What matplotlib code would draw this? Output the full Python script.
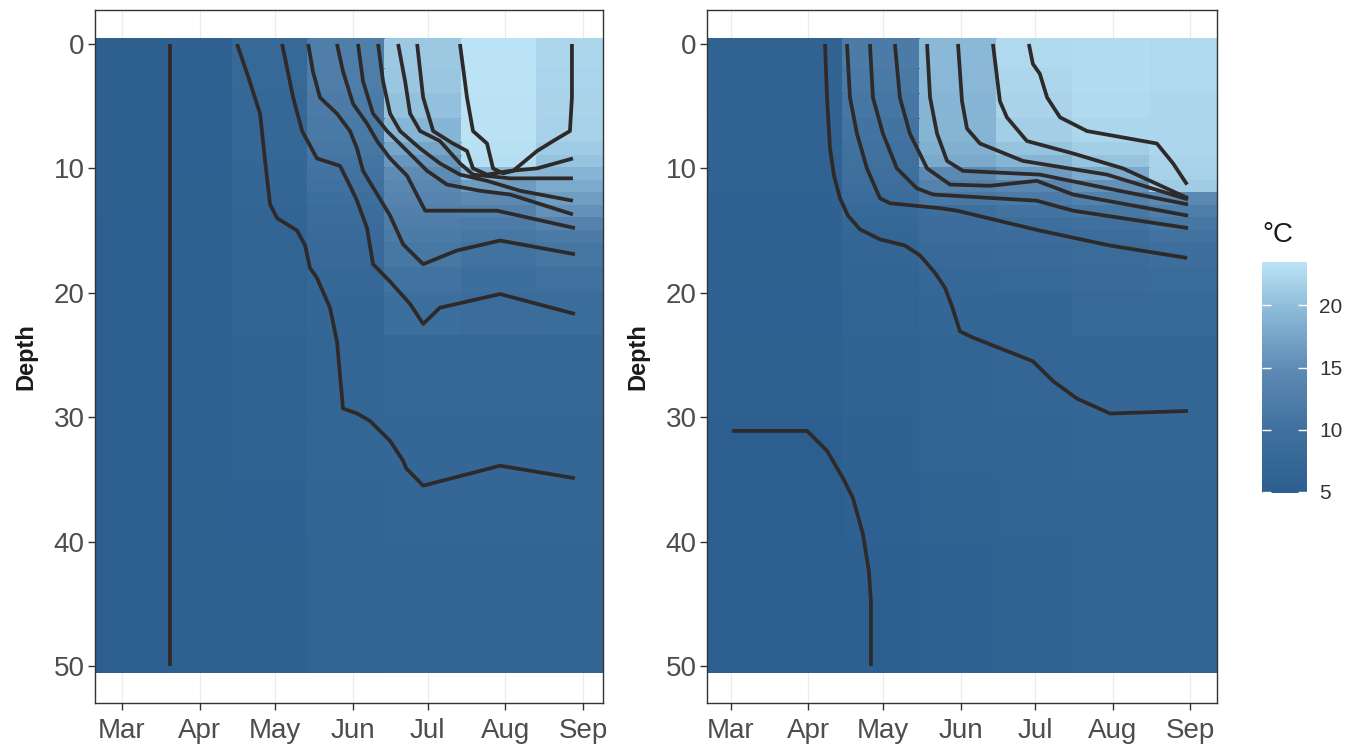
import numpy as np
import matplotlib
matplotlib.use('Agg')
import matplotlib.pyplot as plt
from matplotlib.colors import LinearSegmentedColormap, Normalize

plt.rcParams['font.family'] = ['Liberation Sans', 'DejaVu Sans']

# ── Shared axes (x = days since 1 March, y = depth in m) ─────────────────────
month_days = [0, 31, 61, 92, 122, 153, 184]
month_labels = ['Mar', 'Apr', 'May', 'Jun', 'Jul', 'Aug', 'Sep']
depth_ticks = [0, 10, 20, 30, 40, 50]
depth_edges = [-0.4, 2, 4, 6, 8, 9, 10, 11, 12, 13, 14, 15, 16, 18, 20, 23.5,
               30, 35, 40, 50.5]

# ── Left panel: tile columns and temperature profiles (°C per depth bin) ─────
left_day_edges = [-10.8, 19.2, 44.3, 74.3, 105.0, 135.7, 165.7, 192.0]
left_t1 = [5.1, 5.1, 5.1, 5.1, 5.1, 5.1, 5.1, 5.1, 5.1, 5.1, 5.0, 5.0, 5.0, 5.0, 5.0, 5.0, 5.0, 4.9, 4.9]
left_t2 = [5.8, 5.8, 5.8, 5.8, 5.8, 5.8, 5.7, 5.7, 5.7, 5.7, 5.7, 5.7, 5.6, 5.6, 5.6, 5.5, 5.5, 5.4, 5.4]
left_t3 = [7.9, 7.8, 7.7, 7.6, 7.5, 7.4, 7.3, 7.1, 6.9, 6.7, 6.6, 6.5, 6.4, 6.3, 6.2, 6.0, 5.9, 5.8, 5.7]
left_t4 = [12.5, 12.3, 12.0, 11.6, 11.2, 10.8, 10.4, 10.0, 9.5, 9.0, 8.6, 8.3, 8.0, 7.7, 7.4, 7.0, 6.8, 6.6, 6.4]
left_t5 = [21.0, 20.8, 20.3, 19.2, 17.5, 16.0, 14.8, 14.2, 13.6, 12.9, 12.4, 11.9, 11.2, 10.3, 9.5, 7.6, 7.1, 6.8, 6.5]
left_t6 = [23.5, 23.5, 23.4, 23.3, 23.2, 23.0, 19.5, 16.5, 14.5, 13.0, 12.0, 11.2, 10.3, 9.5, 8.8, 7.6, 7.1, 6.8, 6.5]
left_t7 = [22.2, 22.1, 22.0, 21.8, 21.3, 20.5, 19.2, 18.0, 16.8, 15.5, 13.5, 12.0, 11.0, 10.0, 9.0, 7.6, 7.1, 6.8, 6.5]

# ── Right panel ──────────────────────────────────────────────────────────────
right_day_edges = [-9.6, 44.9, 75.8, 106.6, 137.1, 167.9, 194.8]
right_t1 = [6.0, 6.0, 6.0, 5.9, 5.9, 5.9, 5.9, 5.9, 5.8, 5.8, 5.8, 5.8, 5.7, 5.7, 5.6, 5.4, 5.0, 4.9, 4.9]
right_t2 = [12.0, 11.6, 11.1, 10.6, 10.2, 9.9, 9.6, 9.3, 8.8, 8.2, 7.6, 7.1, 6.8, 6.5, 6.2, 5.9, 5.7, 5.5, 5.3]
right_t3 = [19.5, 19.4, 19.2, 19.0, 18.6, 18.0, 14.5, 13.2, 11.5, 9.5, 8.8, 8.5, 8.0, 7.6, 7.1, 6.6, 6.2, 6.0, 5.8]
right_t4 = [22.5, 22.3, 22.0, 21.5, 20.5, 19.0, 16.5, 14.0, 12.0, 10.5, 9.5, 8.8, 8.3, 7.9, 7.4, 6.9, 6.5, 6.2, 6.0]
right_t5 = [22.8, 22.8, 22.6, 22.2, 21.5, 20.5, 18.0, 15.5, 13.0, 11.2, 10.0, 9.2, 8.7, 8.3, 7.9, 7.3, 6.8, 6.5, 6.2]
right_t6 = [22.5, 22.5, 22.4, 22.3, 22.2, 22.0, 21.8, 21.3, 14.5, 12.5, 11.2, 10.3, 9.3, 8.7, 8.1, 7.4, 6.9, 6.6, 6.3]

# ── Isotherms (day, depth) ───────────────────────────────────────────────────
l05_day = [19.2, 19.2]
l05_dep = [0.0, 50.0]
l07_day = [45.9, 50.3, 55.1, 57.1, 59.1, 61.9, 69.9, 73.1, 75.0, 77.8, 83.0, 85.8, 88.2, 93.8, 99.0, 107.0, 112.2, 113.4, 120.2, 150.9, 180.8]
l07_dep = [0.0, 2.6, 5.6, 9.4, 12.9, 14.0, 15.0, 16.2, 18.0, 18.8, 21.2, 23.9, 29.3, 29.7, 30.3, 31.9, 33.5, 34.1, 35.5, 33.9, 34.9]
l09_day = [63.9, 68.3, 71.9, 77.8, 87.0, 91.0, 93.8, 97.8, 100.2, 107.0, 115.0, 120.2, 126.9, 150.9, 180.8]
l09_dep = [0.0, 4.3, 7.0, 9.2, 9.8, 11.4, 12.6, 14.8, 17.7, 19.1, 20.9, 22.5, 21.2, 20.1, 21.7]
l11_day = [74.3, 76.2, 79.0, 85.8, 91.0, 93.8, 96.2, 101.0, 107.0, 112.2, 120.2, 133.7, 150.9, 180.8]
l11_dep = [0.0, 2.2, 4.3, 5.6, 7.0, 8.4, 10.2, 11.8, 13.8, 16.1, 17.7, 16.6, 15.8, 16.9]
l13_day = [85.8, 88.2, 92.2, 97.8, 101.8, 107.0, 113.8, 121.0, 149.7, 180.8]
l13_dep = [0.0, 2.2, 4.8, 6.4, 7.8, 9.2, 10.6, 13.4, 13.4, 14.8]
l15_day = [94.2, 96.2, 100.2, 105.8, 113.8, 121.8, 129.7, 142.9, 154.9, 180.0]
l15_dep = [0.0, 3.0, 5.6, 7.0, 8.6, 10.2, 11.3, 11.8, 12.1, 13.7]
l17_day = [102.2, 104.2, 107.0, 111.0, 119.0, 126.9, 134.9, 145.7, 158.9, 180.0]
l17_dep = [0.0, 3.0, 5.6, 7.0, 8.4, 9.6, 10.5, 11.0, 11.8, 12.6]
l19_day = [110.2, 113.0, 115.0, 119.0, 126.9, 134.9, 140.1, 154.9, 180.0]
l19_dep = [0.0, 3.0, 5.6, 7.0, 7.8, 9.6, 10.5, 10.8, 10.8]
l21_day = [117.8, 120.2, 124.2, 132.1, 137.7, 140.1, 145.7, 154.9, 165.7, 180.0]
l21_dep = [0.0, 4.3, 7.0, 8.0, 8.6, 10.0, 10.5, 10.2, 10.0, 9.2]
l23_day = [134.9, 137.7, 140.1, 145.7, 148.1, 152.1, 156.1, 165.7, 172.1, 178.8, 179.6, 179.6]
l23_dep = [0.0, 4.3, 7.0, 8.0, 10.0, 10.4, 10.2, 8.6, 7.8, 7.0, 4.3, 0.0]

r05_day = [0.4, 30.5, 38.5, 44.9, 48.9, 52.9, 55.3, 56.1, 56.1]
r05_dep = [31.1, 31.1, 32.7, 34.9, 36.5, 39.4, 42.4, 44.8, 50.0]
r07_day = [37.7, 38.5, 39.7, 41.3, 43.7, 46.9, 51.7, 59.7, 69.7, 75.8, 81.8, 85.8, 88.6, 91.8, 97.0, 121.0, 129.1, 138.7, 151.9, 183.2]
r07_dep = [0.0, 4.3, 8.4, 10.6, 12.4, 13.8, 14.9, 15.7, 16.2, 17.0, 18.4, 19.6, 21.1, 23.1, 23.6, 25.5, 27.1, 28.5, 29.7, 29.5]
r09_day = [46.5, 47.7, 50.5, 54.5, 59.7, 63.7, 83.8, 90.6, 123.8, 151.9, 182.8]
r09_dep = [0.0, 4.3, 7.2, 10.0, 12.4, 12.8, 13.2, 13.4, 15.0, 16.2, 17.2]
r11_day = [55.7, 56.9, 60.9, 66.5, 74.5, 81.0, 122.6, 137.1, 183.2]
r11_dep = [0.0, 4.3, 7.2, 10.0, 11.6, 12.1, 12.6, 13.4, 14.8]
r13_day = [65.7, 67.7, 71.7, 78.6, 87.8, 103.8, 122.6, 137.1, 183.2]
r13_dep = [0.0, 4.3, 7.2, 10.0, 11.3, 11.4, 11.0, 12.1, 13.8]
r15_day = [78.6, 79.8, 82.6, 86.6, 93.0, 123.8, 150.7, 183.2]
r15_dep = [0.0, 4.3, 7.2, 9.4, 10.2, 10.5, 11.6, 12.9]
r17_day = [91.0, 92.6, 94.6, 99.8, 117.0, 150.7, 183.2]
r17_dep = [0.0, 4.6, 6.8, 8.0, 9.4, 10.5, 12.5]
r19_day = [105.0, 107.8, 110.6, 118.6, 137.1, 157.1, 183.2]
r19_dep = [0.0, 4.6, 5.9, 7.8, 8.8, 10.0, 12.4]
r21_day = [119.4, 121.0, 123.8, 126.7, 131.9, 142.7, 170.7, 177.2, 182.8]
r21_dep = [0.0, 1.6, 2.4, 4.3, 5.9, 7.0, 8.0, 9.6, 11.3]

left_lines = [(l05_day, l05_dep), (l07_day, l07_dep), (l09_day, l09_dep),
              (l11_day, l11_dep), (l13_day, l13_dep), (l15_day, l15_dep),
              (l17_day, l17_dep), (l19_day, l19_dep), (l21_day, l21_dep),
              (l23_day, l23_dep)]
right_lines = [(r05_day, r05_dep), (r07_day, r07_dep), (r09_day, r09_dep),
               (r11_day, r11_dep), (r13_day, r13_dep), (r15_day, r15_dep),
               (r17_day, r17_dep), (r19_day, r19_dep), (r21_day, r21_dep)]

# ── Style ────────────────────────────────────────────────────────────────────
cmap = LinearSegmentedColormap.from_list('temp', [
    (0.0, '#2c5f8f'), (0.27, '#3f709e'), (0.53, '#5d8ab3'),
    (0.80, '#8dbbd9'), (1.0, '#bce3f5')])
norm = Normalize(vmin=4.9, vmax=23.5)
line_col = '#2e2a2a'
W, H = 1364, 746

fig = plt.figure(figsize=(W / 100, H / 100), dpi=100)
fig.patch.set_facecolor('white')

def panel(rect, day_edges, cols, lines):
    ax = fig.add_axes(rect)
    temps = np.array(cols).T
    mesh = ax.pcolormesh(day_edges, depth_edges, temps, cmap=cmap, norm=norm,
                         shading='flat', edgecolors='face', linewidth=0.3,
                         zorder=1)
    for d, z in lines:
        ax.plot(d, z, color=line_col, lw=2.7, solid_joinstyle='round',
                solid_capstyle='butt', zorder=3)
    ax.set_xlim(day_edges[0], day_edges[-1])
    ax.set_ylim(52.97, -2.73)
    ax.set_xticks(month_days)
    ax.set_xticklabels(month_labels)
    ax.set_yticks(depth_ticks)
    ax.grid(axis='x', color='#ebebeb', lw=0.9, zorder=0)
    ax.set_axisbelow(True)
    ax.tick_params(labelsize=20, labelcolor='#4d4d4d', color='#333333',
                   length=5, width=1.0, pad=2.5)
    ax.tick_params(axis='x', pad=6)
    for s in ax.spines.values():
        s.set_color('#333333')
        s.set_linewidth(1.0)
    ax.set_ylabel('Depth', fontsize=17, fontweight='bold', color='#1a1a1a',
                  labelpad=12)
    return mesh

mesh = panel([95 / W, 1 - 703 / H, 508 / W, 693 / H], left_day_edges,
             [left_t1, left_t2, left_t3, left_t4, left_t5, left_t6, left_t7],
             left_lines)
panel([707 / W, 1 - 703 / H, 510 / W, 693 / H], right_day_edges,
      [right_t1, right_t2, right_t3, right_t4, right_t5, right_t6],
      right_lines)

# ── Colour bar ───────────────────────────────────────────────────────────────
cax = fig.add_axes([1262 / W, 1 - 493 / H, 45 / W, 231 / H])
cb = fig.colorbar(mesh, cax=cax, ticks=[5, 10, 15, 20])
cb.outline.set_visible(False)
cax.tick_params(axis='y', direction='in', length=6.5, width=1.0,
                color='white', left=True, right=True, labelleft=False,
                labelright=True, labelsize=15, labelcolor='#333333', pad=9)
cax.text(0.0, 1.06, '°C', transform=cax.transAxes, ha='left', va='bottom',
         fontsize=20, color='#1a1a1a')

fig.savefig('out.png', dpi=100, facecolor='white')
